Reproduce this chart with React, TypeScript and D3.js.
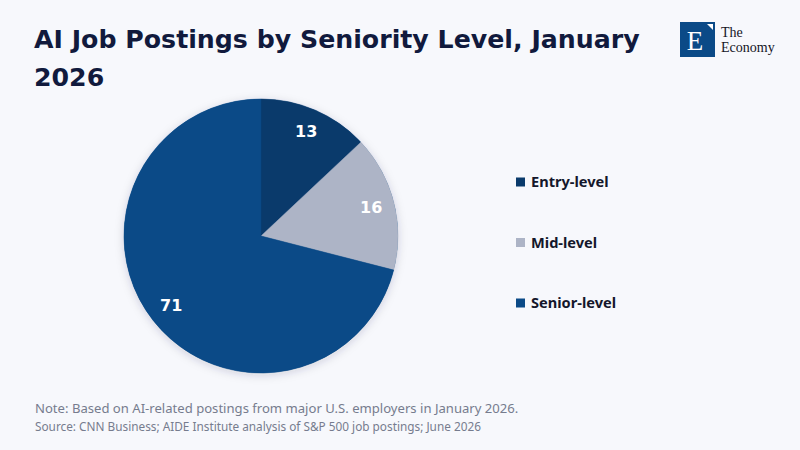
import { useEffect, useRef } from 'react';
import * as d3 from 'd3';

const categories = ['Entry-level', 'Mid-level', 'Senior-level'];
const shares = [13, 16, 71];
const colors = ['#0a3a6b', '#adb4c6', '#0b4a87'];

const titleLines = ['AI Job Postings by Seniority Level, January', '2026'];
const note = 'Note: Based on AI-related postings from major U.S. employers in January 2026.';
const source = 'Source: CNN Business; AIDE Institute analysis of S&P 500 job postings; June 2026';

type Slice = { label: string; value: number };

const W = 800;
const H = 450;
const FONT = "'Noto Sans', Roboto, sans-serif";
const TITLE_FONT = "'DejaVu Sans', 'Noto Sans', sans-serif";

export default function App() {
  const ref = useRef<SVGSVGElement | null>(null);

  useEffect(() => {
    const el = ref.current;
    if (!el) return;
    const svg = d3.select(el);
    svg.selectAll('*').remove();

    const data: Slice[] = categories.map((c, i) => ({ label: c, value: shares[i] }));

    svg.append('rect').attr('width', W).attr('height', H).attr('fill', '#f7f8fc');

    const defs = svg.append('defs');
    const f = defs.append('filter').attr('id', 'shadow').attr('x', '-20%').attr('y', '-20%').attr('width', '140%').attr('height', '140%');
    f.append('feDropShadow').attr('dx', 0).attr('dy', 2).attr('stdDeviation', 5).attr('flood-color', '#1b2a4a').attr('flood-opacity', 0.18);

    // title, sized so the first line spans the same width as the original
    const title = svg.append('text').attr('x', 34).attr('font-family', TITLE_FONT).attr('font-weight', 700)
      .attr('font-size', 27).attr('fill', '#111a3d');
    const spans = titleLines.map((t, i) =>
      title.append('tspan').attr('x', 34).attr('y', 48 + i * 38).text(t)
    );
    const w0 = (spans[0].node() as SVGTSpanElement).getComputedTextLength();
    if (w0 > 0) title.attr('font-size', Math.min(28, 27 * 606 / w0));

    // logo
    const logo = svg.append('g').attr('transform', 'translate(680,22)');
    logo.append('rect').attr('width', 35).attr('height', 35).attr('fill', '#0b4a87');
    logo.append('path').attr('d', 'M27,2 L33,2 L33,8 Z').attr('fill', '#ffffff');
    logo.append('text').attr('x', 15).attr('y', 28).attr('text-anchor', 'middle')
      .attr('font-family', "'Liberation Serif', 'DejaVu Serif', serif").attr('font-size', 27).attr('fill', '#ffffff').text('E');
    logo.append('text').attr('x', 41).attr('y', 15).attr('font-family', "'Liberation Serif', serif")
      .attr('font-size', 14).attr('fill', '#15151f').text('The');
    logo.append('text').attr('x', 41).attr('y', 30).attr('font-family', "'Liberation Serif', serif")
      .attr('font-size', 14).attr('fill', '#15151f').text('Economy');

    // pie
    const cx = 261;
    const cy = 236;
    const r = 137;
    const color = d3.scaleOrdinal<string>().domain(categories).range(colors);
    const pie = d3.pie<Slice>().value((d) => d.value).sort(null);
    const arc = d3.arc<d3.PieArcDatum<Slice>>().innerRadius(0).outerRadius(r);
    const labelArc = d3.arc<d3.PieArcDatum<Slice>>().innerRadius(r * 0.83).outerRadius(r * 0.83);

    const g = svg.append('g').attr('transform', `translate(${cx},${cy})`);
    g.append('circle').attr('r', r).attr('fill', '#0b4a87').attr('filter', 'url(#shadow)');
    g.selectAll('path.slice')
      .data(pie(data))
      .join('path')
      .attr('class', 'slice')
      .attr('d', arc)
      .attr('fill', (d) => color(d.data.label))
      .attr('stroke', (d) => color(d.data.label))
      .attr('stroke-width', 0.5);

    g.selectAll('text.val')
      .data(pie(data))
      .join('text')
      .attr('class', 'val')
      .attr('transform', (d) => `translate(${labelArc.centroid(d)})`)
      .attr('text-anchor', 'middle')
      .attr('dy', '0.35em')
      .attr('font-family', TITLE_FONT)
      .attr('font-weight', 700)
      .attr('font-size', 16)
      .attr('fill', '#ffffff')
      .text((d) => d.data.value);

    // legend
    const legendY = d3.scalePoint<string>().domain(categories).range([182, 303]);
    const lg = svg.append('g');
    const item = lg.selectAll('g').data(categories).join('g')
      .attr('transform', (d) => `translate(516,${legendY(d)})`);
    item.append('rect').attr('y', -4.5).attr('width', 9).attr('height', 9).attr('fill', (d) => color(d));
    item.append('text').attr('x', 15).attr('dy', '0.35em').attr('font-family', FONT).attr('font-weight', 700)
      .attr('font-size', 14.6).attr('fill', '#14172b').text((d) => d);

    // footer
    svg.append('text').attr('x', 35).attr('y', 413).attr('font-family', FONT).attr('font-size', 13.1)
      .attr('fill', '#767c8e').text(note);
    svg.append('text').attr('x', 35).attr('y', 431).attr('font-family', FONT).attr('font-size', 11.8)
      .attr('fill', '#767c8e').text(source);
  }, []);

  return (
    <div style={{ position: 'fixed', left: 0, top: 0, width: W, height: H }}>
      <svg ref={ref} width={W} height={H} style={{ display: 'block' }} />
    </div>
  );
}
